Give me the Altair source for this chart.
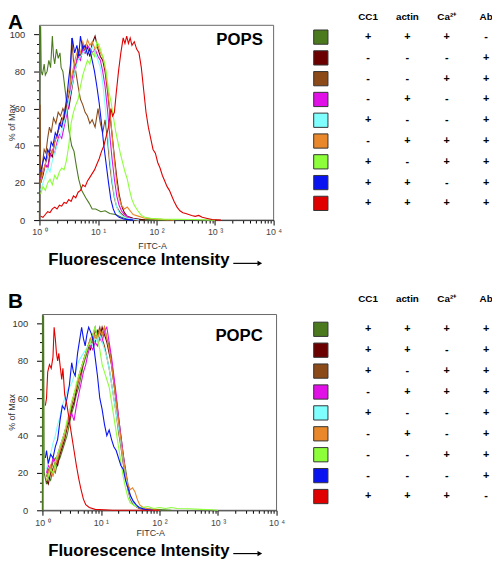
import altair as alt
import pandas as pd

FONT = "Liberation Sans"

SERIES = ["dkgreen", "maroon", "brown", "magenta", "cyan", "orange", "ltgreen", "blue", "red"]
COLORS = ["#4B7A1E", "#6B0000", "#8B4A18", "#E010E6", "#80FFFF", "#E8882A", "#8CFF3A", "#0A14F0", "#E00000"]
COLUMNS = ["CC1", "actin", "Ca²⁺", "Ab"]

# legend table signs (rows follow SERIES order)
A_CC1 = ["+", "-", "-", "-", "+", "-", "+", "+", "+"]
A_ACTIN = ["+", "-", "-", "+", "-", "+", "-", "+", "+"]
A_CA = ["+", "-", "+", "-", "-", "+", "+", "-", "+"]
A_AB = ["-", "+", "+", "+", "+", "+", "+", "+", "+"]

B_CC1 = ["+", "+", "+", "-", "+", "-", "-", "-", "+"]
B_ACTIN = ["+", "+", "-", "+", "-", "+", "-", "-", "+"]
B_CA = ["+", "-", "+", "+", "-", "-", "+", "-", "+"]
B_AB = ["+", "+", "+", "+", "+", "+", "+", "+", "-"]

# ---------- Panel A (POPS) curves: (log10 FITC-A, % of Max) ----------
A_DKGREEN = [(0.0, 0), (0.005, 104), (0.02, 104), (0.03, 80), (0.05, 78), (0.08, 84), (0.1, 78), (0.13, 80),
             (0.16, 86), (0.19, 82), (0.22, 99), (0.24, 88), (0.26, 84), (0.29, 92), (0.32, 87), (0.35, 90),
             (0.37, 82), (0.4, 80), (0.45, 67), (0.5, 49), (0.55, 40), (0.59, 37), (0.63, 29), (0.67, 22),
             (0.72, 16), (0.79, 12), (0.85, 9), (0.9, 6), (0.96, 6), (1.05, 4.5), (1.12, 5), (1.2, 3.5),
             (1.3, 3), (1.4, 1.5), (1.5, 0.5), (1.7, 0.3), (2.2, 0)]
A_MAROON = [(0.02, 20), (0.06, 24), (0.1, 30), (0.14, 28), (0.18, 36), (0.22, 34), (0.26, 42), (0.3, 46),
            (0.34, 50), (0.38, 55), (0.42, 54), (0.46, 62), (0.5, 60), (0.54, 68), (0.58, 76), (0.62, 82),
            (0.66, 90), (0.7, 88), (0.74, 95), (0.78, 90), (0.82, 93), (0.86, 88), (0.9, 95), (0.95, 99),
            (1.0, 92), (1.04, 88), (1.08, 86), (1.12, 80), (1.16, 70), (1.2, 58), (1.24, 46), (1.28, 34),
            (1.32, 23), (1.36, 14), (1.4, 8), (1.45, 4), (1.5, 2), (1.6, 1), (1.8, 0)]
A_BROWN = [(0.0, 0), (0.01, 62), (0.02, 20), (0.05, 30), (0.08, 38), (0.11, 36), (0.14, 44), (0.17, 50),
           (0.2, 47), (0.24, 55), (0.28, 52), (0.32, 58), (0.36, 56), (0.4, 60), (0.44, 57), (0.48, 64),
           (0.52, 70), (0.55, 98), (0.58, 86), (0.62, 80), (0.66, 72), (0.7, 65), (0.74, 62), (0.78, 58),
           (0.82, 56), (0.86, 52), (0.9, 54), (0.95, 50), (1.0, 60), (1.04, 52), (1.08, 47), (1.12, 54),
           (1.16, 44), (1.2, 30), (1.24, 20), (1.28, 12), (1.32, 7), (1.38, 4), (1.45, 2), (1.55, 0.5),
           (1.7, 0)]
A_MAGENTA = [(0.02, 22), (0.06, 26), (0.1, 30), (0.14, 28), (0.18, 34), (0.22, 38), (0.26, 36), (0.3, 42),
             (0.34, 46), (0.38, 44), (0.42, 50), (0.46, 56), (0.5, 62), (0.54, 72), (0.58, 80), (0.62, 84),
             (0.66, 88), (0.7, 86), (0.74, 92), (0.78, 90), (0.82, 94), (0.86, 92), (0.9, 90), (0.95, 92),
             (1.0, 88), (1.04, 86), (1.08, 80), (1.12, 72), (1.16, 60), (1.2, 46), (1.24, 33), (1.28, 22),
             (1.32, 13), (1.36, 8), (1.4, 5), (1.45, 3), (1.55, 1), (1.7, 0)]
A_CYAN = [(0.02, 16), (0.06, 20), (0.1, 24), (0.14, 28), (0.18, 26), (0.22, 32), (0.26, 36), (0.3, 40),
          (0.34, 44), (0.38, 48), (0.42, 52), (0.46, 58), (0.5, 64), (0.54, 70), (0.58, 76), (0.62, 82),
          (0.66, 86), (0.7, 88), (0.75, 90), (0.8, 92), (0.85, 90), (0.9, 93), (0.95, 90), (1.0, 86),
          (1.04, 82), (1.08, 74), (1.12, 62), (1.16, 48), (1.2, 34), (1.24, 22), (1.28, 13), (1.32, 7),
          (1.36, 4), (1.42, 2), (1.5, 1), (1.7, 0)]
A_ORANGE = [(0.02, 20), (0.06, 26), (0.1, 30), (0.14, 34), (0.18, 38), (0.22, 36), (0.26, 42), (0.3, 46),
            (0.34, 50), (0.38, 52), (0.42, 58), (0.46, 64), (0.5, 70), (0.54, 76), (0.58, 82), (0.62, 88),
            (0.66, 92), (0.7, 90), (0.74, 96), (0.78, 92), (0.82, 97), (0.86, 94), (0.9, 96), (0.95, 92),
            (1.0, 94), (1.04, 90), (1.08, 88), (1.12, 82), (1.16, 72), (1.2, 60), (1.24, 46), (1.28, 32),
            (1.32, 20), (1.36, 12), (1.4, 8), (1.45, 6), (1.5, 7), (1.55, 5), (1.6, 3), (1.7, 2), (1.8, 1),
            (2.0, 0.5), (2.3, 0)]
A_LTGREEN = [(0.02, 14), (0.06, 18), (0.1, 16), (0.14, 20), (0.18, 22), (0.22, 19), (0.26, 24), (0.3, 22),
             (0.34, 26), (0.38, 28), (0.42, 27), (0.46, 32), (0.5, 40), (0.54, 52), (0.58, 58), (0.62, 62),
             (0.66, 65), (0.7, 72), (0.74, 78), (0.78, 82), (0.82, 86), (0.86, 84), (0.9, 90), (0.94, 88),
             (0.98, 96), (1.02, 94), (1.06, 90), (1.1, 86), (1.14, 80), (1.18, 70), (1.22, 64), (1.26, 56),
             (1.3, 48), (1.34, 42), (1.38, 36), (1.42, 31), (1.46, 26), (1.5, 22), (1.54, 16), (1.58, 11),
             (1.62, 8), (1.68, 5), (1.74, 2.5), (1.8, 1.5), (1.9, 1), (2.1, 0.5), (2.6, 0.3), (3.0, 0)]
A_BLUE = [(0.02, 26), (0.05, 30), (0.08, 34), (0.11, 32), (0.14, 38), (0.17, 36), (0.2, 42), (0.23, 40),
          (0.27, 47), (0.3, 45), (0.34, 52), (0.38, 50), (0.42, 56), (0.46, 64), (0.5, 76), (0.53, 84),
          (0.56, 98), (0.6, 90), (0.64, 94), (0.67, 88), (0.7, 99), (0.74, 92), (0.78, 94), (0.82, 89),
          (0.86, 92), (0.9, 86), (0.94, 80), (0.98, 72), (1.02, 63), (1.06, 52), (1.1, 40), (1.14, 30),
          (1.18, 20), (1.22, 11), (1.26, 6), (1.3, 3), (1.36, 1.5), (1.45, 0.5), (1.6, 0)]
A_RED = [(0.02, 2), (0.06, 1.5), (0.1, 3), (0.14, 4.5), (0.18, 4), (0.22, 6), (0.26, 7), (0.3, 6), (0.34, 8),
         (0.38, 7.5), (0.42, 9.5), (0.46, 9), (0.5, 11), (0.54, 10), (0.58, 13), (0.62, 12), (0.66, 15),
         (0.7, 16), (0.74, 19), (0.78, 18), (0.82, 21), (0.86, 23), (0.9, 25), (0.94, 27), (0.98, 30),
         (1.02, 33), (1.06, 37), (1.1, 40), (1.14, 45), (1.18, 50), (1.22, 60), (1.25, 56), (1.28, 58),
         (1.31, 68), (1.35, 80), (1.39, 90), (1.43, 98), (1.46, 95), (1.49, 99), (1.52, 95), (1.55, 98),
         (1.58, 94), (1.62, 96), (1.66, 92), (1.7, 90), (1.74, 82), (1.78, 70), (1.82, 58), (1.86, 50),
         (1.9, 44), (1.94, 38), (1.98, 36), (2.02, 31), (2.06, 28), (2.1, 24), (2.14, 21), (2.18, 18),
         (2.22, 16), (2.26, 13), (2.3, 10), (2.35, 7), (2.4, 5), (2.45, 4), (2.5, 3.5), (2.55, 3), (2.6, 2.5),
         (2.66, 2), (2.72, 2.5), (2.78, 1.5), (2.85, 1), (2.95, 0.3), (3.1, 0)]

# ---------- Panel B (POPC) curves ----------
B_DKGREEN = [(0.0, 0), (0.005, 104), (0.02, 104), (0.03, 20), (0.07, 14), (0.1, 18), (0.14, 16), (0.18, 22),
             (0.22, 20), (0.26, 26), (0.3, 28), (0.34, 32), (0.38, 36), (0.42, 40), (0.46, 46), (0.5, 52),
             (0.54, 56), (0.58, 62), (0.62, 66), (0.66, 72), (0.7, 78), (0.74, 82), (0.78, 86), (0.82, 90),
             (0.86, 94), (0.9, 98), (0.94, 92), (0.98, 96), (1.02, 94), (1.06, 98), (1.1, 92), (1.14, 88),
             (1.18, 80), (1.22, 70), (1.26, 60), (1.3, 50), (1.34, 40), (1.38, 30), (1.42, 22), (1.46, 14),
             (1.5, 8), (1.55, 4), (1.6, 2), (1.7, 1), (1.9, 0.5), (2.2, 0)]
B_MAROON = [(0.07, 16), (0.1, 14), (0.14, 20), (0.18, 22), (0.22, 26), (0.26, 24), (0.3, 30), (0.34, 34),
            (0.38, 38), (0.42, 44), (0.46, 48), (0.5, 54), (0.54, 58), (0.58, 64), (0.62, 70), (0.66, 74),
            (0.7, 80), (0.74, 84), (0.78, 88), (0.82, 86), (0.86, 92), (0.9, 90), (0.94, 96), (0.98, 92),
            (1.02, 98), (1.06, 94), (1.1, 90), (1.14, 84), (1.18, 78), (1.22, 68), (1.26, 58), (1.3, 48),
            (1.34, 38), (1.38, 28), (1.42, 20), (1.46, 13), (1.5, 7), (1.55, 4), (1.6, 2), (1.7, 1), (1.9, 0)]
B_BROWN = [(0.07, 18), (0.1, 22), (0.14, 20), (0.18, 26), (0.22, 28), (0.26, 26), (0.3, 32), (0.34, 36),
           (0.38, 42), (0.42, 46), (0.46, 50), (0.5, 56), (0.54, 62), (0.58, 66), (0.62, 72), (0.66, 76),
           (0.7, 80), (0.74, 84), (0.78, 88), (0.82, 92), (0.86, 90), (0.9, 96), (0.94, 94), (0.98, 98),
           (1.02, 92), (1.06, 88), (1.1, 82), (1.14, 76), (1.18, 68), (1.22, 60), (1.26, 52), (1.3, 42),
           (1.34, 34), (1.38, 25), (1.42, 18), (1.46, 11), (1.5, 6), (1.55, 3), (1.65, 1), (1.8, 0)]
B_MAGENTA = [(0.07, 20), (0.1, 24), (0.14, 22), (0.18, 28), (0.22, 26), (0.26, 30), (0.3, 34), (0.34, 38),
             (0.38, 42), (0.42, 46), (0.46, 50), (0.5, 52), (0.54, 48), (0.58, 56), (0.62, 62), (0.66, 68),
             (0.7, 74), (0.74, 78), (0.78, 84), (0.82, 88), (0.86, 86), (0.9, 90), (0.94, 88), (0.98, 92),
             (1.02, 90), (1.06, 96), (1.1, 98), (1.14, 90), (1.18, 82), (1.22, 72), (1.26, 62), (1.3, 50),
             (1.34, 40), (1.38, 30), (1.42, 20), (1.46, 12), (1.5, 7), (1.55, 4), (1.6, 2), (1.7, 1), (1.9, 0)]
B_CYAN = [(0.07, 22), (0.1, 26), (0.14, 30), (0.18, 36), (0.22, 40), (0.26, 46), (0.3, 50), (0.34, 56),
          (0.38, 60), (0.42, 64), (0.46, 66), (0.5, 68), (0.54, 72), (0.58, 76), (0.62, 80), (0.66, 82),
          (0.7, 84), (0.74, 86), (0.78, 88), (0.82, 90), (0.86, 88), (0.9, 92), (0.94, 90), (0.98, 94),
          (1.02, 90), (1.06, 86), (1.1, 82), (1.14, 76), (1.18, 68), (1.22, 60), (1.26, 52), (1.3, 44),
          (1.34, 36), (1.38, 27), (1.42, 19), (1.46, 12), (1.5, 7), (1.55, 4), (1.6, 2), (1.7, 1), (1.9, 0)]
B_ORANGE = [(0.07, 16), (0.1, 20), (0.14, 24), (0.18, 18), (0.22, 24), (0.26, 28), (0.3, 32), (0.34, 36),
            (0.38, 40), (0.42, 46), (0.46, 52), (0.5, 58), (0.54, 62), (0.58, 66), (0.62, 70), (0.66, 76),
            (0.7, 80), (0.74, 84), (0.78, 88), (0.82, 92), (0.86, 90), (0.9, 94), (0.94, 92), (0.98, 96),
            (1.02, 94), (1.06, 98), (1.1, 92), (1.14, 86), (1.18, 78), (1.22, 68), (1.26, 58), (1.3, 48),
            (1.34, 38), (1.38, 28), (1.42, 20), (1.46, 14), (1.5, 11), (1.54, 12), (1.58, 10), (1.62, 6),
            (1.66, 3), (1.72, 1.5), (1.85, 0.5), (2.0, 0)]
B_LTGREEN = [(0.07, 16), (0.1, 18), (0.14, 22), (0.18, 20), (0.22, 26), (0.26, 30), (0.3, 34), (0.34, 38),
             (0.38, 42), (0.42, 48), (0.46, 52), (0.5, 58), (0.54, 62), (0.58, 68), (0.62, 72), (0.66, 76),
             (0.7, 80), (0.74, 84), (0.78, 88), (0.82, 90), (0.86, 94), (0.9, 98), (0.94, 92), (0.98, 86),
             (1.02, 78), (1.06, 74), (1.1, 70), (1.14, 66), (1.18, 58), (1.22, 50), (1.26, 42), (1.3, 34),
             (1.34, 26), (1.38, 18), (1.42, 12), (1.46, 7), (1.5, 4), (1.55, 3), (1.6, 2), (1.7, 1.5), (1.8, 2),
             (1.9, 1), (2.0, 1.5), (2.1, 1), (2.2, 1.5), (2.3, 1), (2.5, 0.8), (2.7, 0.5), (2.9, 0.3), (3.0, 0)]
B_BLUE = [(0.05, 28), (0.07, 32), (0.1, 25), (0.14, 30), (0.18, 28), (0.22, 34), (0.26, 38), (0.3, 48),
          (0.34, 56), (0.38, 54), (0.42, 60), (0.46, 67), (0.5, 79), (0.53, 74), (0.56, 72), (0.6, 84),
          (0.63, 90), (0.67, 98), (0.7, 92), (0.73, 88), (0.76, 94), (0.79, 98), (0.83, 95), (0.86, 92),
          (0.9, 82), (0.94, 72), (0.98, 60), (1.02, 54), (1.06, 46), (1.1, 40), (1.14, 43), (1.18, 38),
          (1.22, 34), (1.26, 32), (1.3, 28), (1.34, 24), (1.38, 22), (1.42, 16), (1.46, 12), (1.5, 8),
          (1.55, 5), (1.6, 3), (1.65, 1.5), (1.75, 0.5), (1.9, 0)]
B_RED = [(0.05, 56), (0.07, 60), (0.09, 74), (0.12, 78), (0.15, 76), (0.18, 82), (0.2, 98), (0.22, 92),
         (0.24, 84), (0.26, 80), (0.28, 84), (0.3, 78), (0.33, 70), (0.35, 76), (0.38, 62), (0.42, 56),
         (0.46, 48), (0.5, 40), (0.54, 32), (0.58, 24), (0.62, 17), (0.66, 11), (0.7, 6), (0.74, 3),
         (0.8, 1.5), (0.9, 0.5), (1.2, 0), (2.0, 0)]

A_CURVES = [A_DKGREEN, A_MAROON, A_BROWN, A_MAGENTA, A_CYAN, A_ORANGE, A_LTGREEN, A_BLUE, A_RED]
B_CURVES = [B_DKGREEN, B_MAROON, B_BROWN, B_MAGENTA, B_CYAN, B_ORANGE, B_LTGREEN, B_BLUE, B_RED]

XTICKS = [k * 10 ** d for d in range(4) for k in range(1, 10)] + [10000]
YTICKS = list(range(0, 101, 5))
Y_TOP = 104.8

W, H = 492, 556


def curve_frame(curves):
    rows = []
    for name, pts in zip(SERIES, curves):
        for lx, y in pts:
            rows.append({"series": name, "fitc": 10 ** lx, "pct": y})
    return pd.DataFrame(rows)


def table_frame(cols):
    rows = []
    for cname, signs in zip(COLUMNS, cols):
        for name, s in zip(SERIES, signs):
            rows.append({"series": name, "col": cname, "sign": s})
    return pd.DataFrame(rows)


DECADE_TEST = "indexof([1, 10, 100, 1000, 10000], datum.value) >= 0"
XLABEL_EXPR = ("datum.value == 1 ? '10 ⁰' : datum.value == 10 ? '10 ¹' : datum.value == 100 ? '10 ²' : "
               "datum.value == 1000 ? '10 ³' : datum.value == 10000 ? '10 ⁴' : ''")

color_scale = alt.Scale(domain=SERIES, range=COLORS)


def text(t, x, y, size, weight="bold", align="left", baseline="middle", angle=0, color="#000"):
    return alt.Chart(pd.DataFrame({"t": [t]})).mark_text(
        fontSize=size, fontWeight=weight, align=align, baseline=baseline, angle=angle,
        font=FONT, color=color
    ).encode(text="t:N", x=alt.value(x), y=alt.value(y))


def plot_panel(curves, xr, yr, letter, letter_y, name, name_y, fitc_x, fitc_y, fl_y):
    xscale = alt.Scale(type="log", domain=[1, 10000], range=xr, nice=False)
    yscale = alt.Scale(domain=[0, Y_TOP], range=yr, nice=False, zero=False)
    xaxis = alt.Axis(orient="bottom", offset=-(H - yr[0]), values=XTICKS, labelExpr=XLABEL_EXPR,
                     tickSize={"condition": {"test": DECADE_TEST, "value": 5}, "value": 3},
                     labelOverlap=False, labelFlush=False, labelBound=False, labelPadding=3,
                     labelFontSize=9, labelColor="#444", labelFont=FONT, domainColor="#000",
                     tickColor="#000", grid=False, title=None)
    yaxis = alt.Axis(orient="left", offset=-xr[0], values=YTICKS,
                     labelExpr="datum.value % 20 == 0 ? datum.label : ''",
                     tickSize={"condition": {"test": "datum.value % 20 == 0", "value": 6}, "value": 3},
                     labelOverlap=False, labelPadding=9, labelFontSize=9.5, labelColor="#333",
                     labelFont=FONT, domainColor="#000", tickColor="#000", grid=False, title=None)
    box = alt.Chart(pd.DataFrame({"x0": [1], "x1": [10000], "y0": [0], "y1": [Y_TOP]})).mark_rect(
        fillOpacity=0, stroke="#666", strokeWidth=1
    ).encode(
        x=alt.X("x0:Q", scale=xscale, axis=xaxis), x2="x1:Q",
        y=alt.Y("y0:Q", scale=yscale, axis=yaxis), y2="y1:Q",
    )
    lines = alt.Chart(curve_frame(curves)).mark_line(strokeWidth=1.1).encode(
        x=alt.X("fitc:Q", scale=xscale, axis=xaxis),
        y=alt.Y("pct:Q", scale=yscale, axis=yaxis),
        color=alt.Color("series:N", scale=color_scale, legend=None),
    )
    arrow_line = alt.Chart(pd.DataFrame({"a": [0]})).mark_rule(color="#000", strokeWidth=1.2).encode(
        x=alt.value(229), x2=alt.value(254), y=alt.value(fl_y + 3)
    )
    arrow_head = alt.Chart(pd.DataFrame({"a": [0]})).mark_point(
        shape="triangle-right", filled=True, size=30, color="#000", opacity=1
    ).encode(x=alt.value(256), y=alt.value(fl_y + 3))
    return alt.layer(
        box, lines,
        text(letter, 0, letter_y, 21, baseline="top"),
        text(name, 259, name_y, 17, align="right"),
        text("% of Max", 4, (yr[0] + yr[1]) / 2, 9, weight="normal", align="center", angle=270, color="#333"),
        text("FITC-A", fitc_x, fitc_y, 9, weight="normal", align="center", color="#333"),
        text("Fluorescence Intensity", 133, fl_y, 17, align="center"),
        arrow_line, arrow_head,
    )


def legend_panel(cols, yr, header_y):
    yscale = alt.Scale(type="point", domain=SERIES, range=yr, padding=0)
    xscale = alt.Scale(type="point", domain=COLUMNS, range=[366, 486], padding=0)
    squares = alt.Chart(pd.DataFrame({"series": SERIES})).mark_square(
        size=210, stroke="#333", strokeWidth=1, opacity=1, filled=True
    ).encode(
        x=alt.value(318),
        y=alt.Y("series:N", scale=yscale, axis=None),
        fill=alt.Fill("series:N", scale=color_scale, legend=None),
    )
    signs = alt.Chart(table_frame(cols)).mark_text(fontSize=11, fontWeight="bold", font=FONT).encode(
        x=alt.X("col:N", scale=xscale, axis=None),
        y=alt.Y("series:N", scale=yscale, axis=None),
        text="sign:N",
    )
    header = alt.Chart(pd.DataFrame({"col": COLUMNS})).mark_text(
        fontSize=10, fontWeight="bold", font=FONT
    ).encode(
        x=alt.X("col:N", scale=xscale, axis=None),
        y=alt.value(header_y),
        text="col:N",
    )
    return alt.layer(squares, signs, header)


plotA = plot_panel(A_CURVES, [32, 270], [211, 13], "A", 0, "POPS", 28, 147, 237, 252)
plotB = plot_panel(B_CURVES, [35, 273], [506, 307], "B", 283, "POPC", 329, 145, 529, 547)
legA = legend_panel([A_CC1, A_ACTIN, A_CA, A_AB], [25, 194], 5)
legB = legend_panel([B_CC1, B_ACTIN, B_CA, B_AB], [322, 492], 291)

chart = alt.layer(plotA, plotB, legA, legB).resolve_scale(
    x="independent", y="independent"
).properties(
    width=W, height=H, autosize=alt.AutoSizeParams(type="none"), padding=0
).configure_view(stroke=None)

chart.save("out.html", embed_options={"renderer": "svg", "actions": False})
